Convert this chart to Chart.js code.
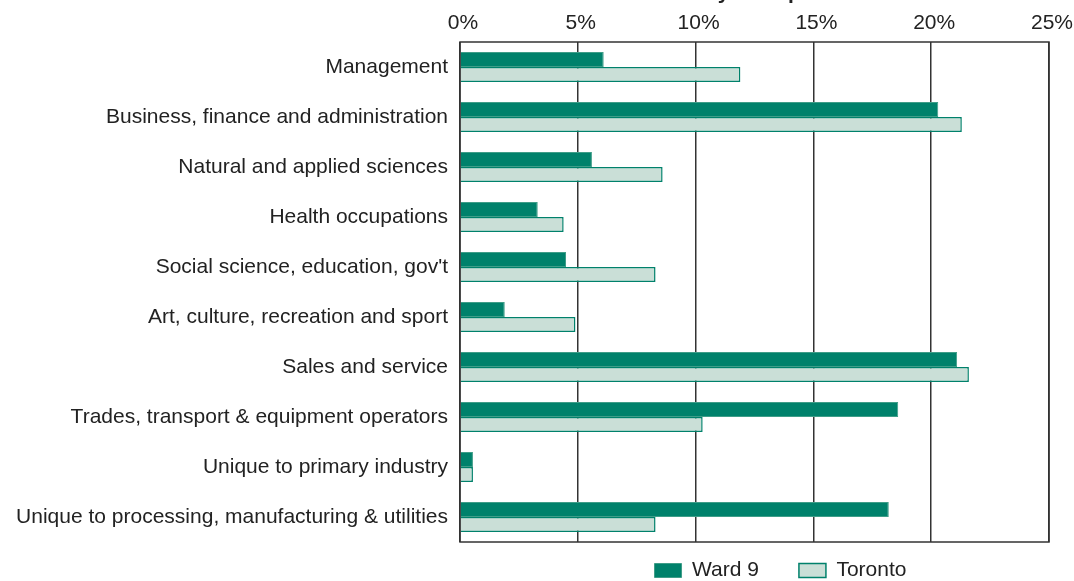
<!DOCTYPE html>
<html>
<head>
<meta charset="utf-8">
<script src="https://cdn.jsdelivr.net/npm/chart.js@4"></script>
<style>
  body { margin: 0; background: #fff; }
  #wrap { width: 1074px; height: 581px; }
</style>
</head>
<body>
<div id="wrap"><canvas id="occ-chart"></canvas></div>
<script>
// categories (occupation groups)
const occupations = [
  "Management",
  "Business, finance and administration",
  "Natural and applied sciences",
  "Health occupations",
  "Social science, education, gov't",
  "Art, culture, recreation and sport",
  "Sales and service",
  "Trades, transport & equipment operators",
  "Unique to primary industry",
  "Unique to processing, manufacturing & utilities"
]

// share of labour force, percent
const ward9_data = [6.1, 20.3, 5.6, 3.3, 4.5, 1.9, 21.1, 18.6, 0.55, 18.2]
const toronto_data = [11.9, 21.3, 8.6, 4.4, 8.3, 4.9, 21.6, 10.3, 0.55, 8.3]

const x_ticks = [0, 5, 10, 15, 20, 25]
const chart_title = "Labour Force by Occupation"

const ward9_color = "#00816B"
const toronto_color = "#CADFD7"
const font_family = "'Liberation Sans', Arial, sans-serif"

// box around plot area, legend nudge, cut off title at the top
const framePlugin = {
  id: "frame",
  afterUpdate(chart) {
    const lg = chart.legend
    lg.left += 256; lg.right += 256
    lg.top -= 22; lg.bottom = chart.height
  },
  afterDatasetsDraw(chart) {
    const ctx = chart.ctx
    const a = chart.chartArea
    ctx.save()
    ctx.strokeStyle = "#333"
    ctx.lineWidth = 1.5
    ctx.strokeRect(a.left, a.top, a.right - a.left, a.bottom - a.top)
    ctx.font = "bold 21px " + font_family
    ctx.fillStyle = "#222"
    ctx.textBaseline = "alphabetic"
    ctx.fillText(chart_title, 565, -1)
    ctx.restore()
  }
}

new Chart(document.getElementById("occ-chart"), {
  type: "bar",
  data: {
    labels: occupations,
    datasets: [{
        label: "Ward 9",
        data: ward9_data,
        backgroundColor: ward9_color,
        borderColor: "#3f9d88",
        borderWidth: 1
      }, {
        label: "Toronto",
        data: toronto_data,
        backgroundColor: toronto_color,
        borderColor: ward9_color,
        borderWidth: 1.5
      }
    ]
  },
  options: {
    indexAxis: "y",
    responsive: true,
    maintainAspectRatio: false,
    animation: false,
    layout: { padding: { left: 0, right: 25, top: 0, bottom: 0 } },
    datasets: { bar: { categoryPercentage: 0.6, barPercentage: 1.0 } },
    scales: {
      x: {
        position: "top",
        min: 0,
        max: 25,
        afterBuildTicks: (scale) => { scale.ticks = x_ticks.map(v => ({ value: v })) },
        ticks: {
          callback: (v) => v + "%",
          color: "#222",
          font: { family: font_family, size: 21 },
          padding: 6,
          labelOffset: 3,
          maxRotation: 0
        },
        grid: { color: "#333", lineWidth: 1.5, drawTicks: false },
        border: { display: false },
        afterFit: (scale) => {
          scale.height = 42
          scale.paddingLeft = 0
          scale.paddingRight = 0
        }
      },
      y: {
        ticks: {
          color: "#222",
          font: { family: font_family, size: 21 },
          padding: 12
        },
        grid: { display: false, drawTicks: false },
        border: { display: false },
        afterFit: (scale) => { scale.width = 460 }
      }
    },
    plugins: {
      legend: {
        position: "bottom",
        maxHeight: 39,
        labels: {
          boxWidth: 27,
          boxHeight: 14,
          color: "#222",
          font: { family: font_family, size: 21 },
          padding: 40
        }
      },
      tooltip: { enabled: false }
    }
  },
  plugins: [framePlugin]
});
</script>
</body>
</html>
